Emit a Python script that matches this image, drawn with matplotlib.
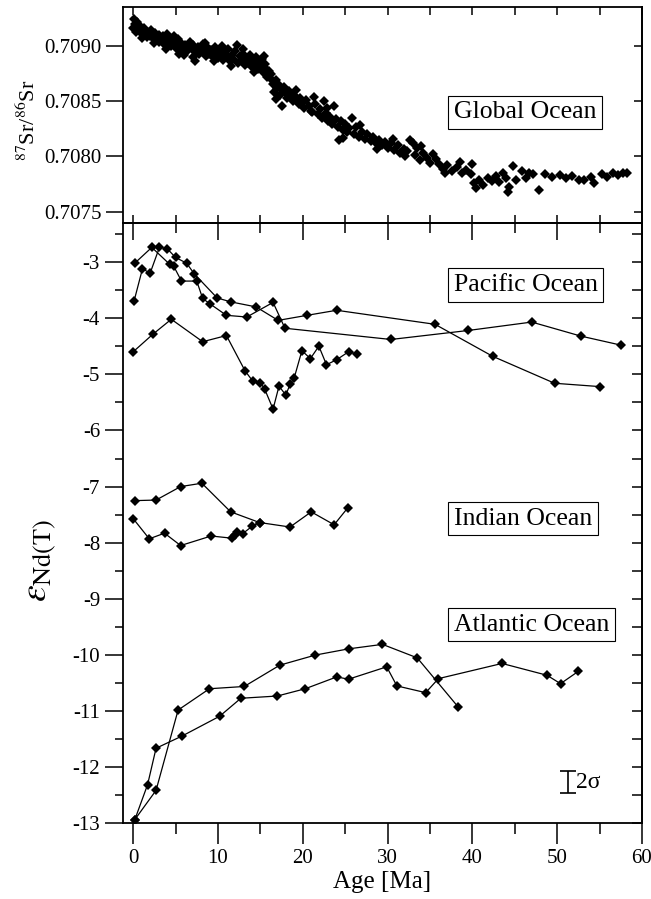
import matplotlib
matplotlib.use("Agg")
import matplotlib.pyplot as plt
from matplotlib.ticker import MultipleLocator, FormatStrFormatter

plt.rcParams['font.family'] = ['Liberation Serif', 'DejaVu Serif']
plt.rcParams['mathtext.fontset'] = 'stix'
plt.rcParams['axes.unicode_minus'] = False

# --- Sr isotope record (global ocean) ---
sr_age = [0.0, 0.1, 0.2, 0.3, 0.4, 0.5, 0.6, 0.8, 0.9, 1.0, 1.2, 1.3, 1.5, 1.6, 1.8, 2.0, 2.1, 2.3,
          2.5, 2.6, 2.8, 3.0, 3.1, 3.3, 3.5, 3.6, 3.8, 4.0, 4.1, 4.3, 4.5, 4.6, 4.8, 5.0, 5.2, 5.4, 5.5,
          5.7, 5.9, 6.1, 6.3, 6.5, 6.7, 6.9, 7.1, 7.3, 7.4, 7.6, 7.8, 8.0, 8.2, 8.4, 8.6, 8.8, 9.0,
          9.2, 9.4, 9.6, 9.8, 10.0, 10.2, 10.4, 10.6, 10.8, 11.0, 11.2, 11.4, 11.6, 11.8, 12.0, 12.3,
          12.4, 12.6, 12.8, 13.0, 13.2, 13.4,
          13.6, 13.8, 14.0, 14.1, 14.3, 14.5, 14.7, 14.8, 15.0, 15.2, 15.3, 15.5, 15.7, 15.8, 16.0,
          16.2, 16.3, 16.5, 16.6, 16.8, 17.0, 17.2, 17.3, 17.5, 17.6, 17.8, 18.0, 18.2, 18.4,
          18.6, 18.8, 19.0, 19.3, 19.5, 19.7, 20.0, 20.2, 20.4, 20.7, 21.0, 21.3, 21.5, 21.8, 22.0,
          22.3, 22.5, 22.7, 23.0, 23.2, 23.4, 23.7, 23.9, 24.1, 24.3, 24.5, 24.7, 25.0, 25.2, 25.5,
          25.8, 26.0, 26.3, 26.6,
          27.0, 27.3, 27.6, 28.0, 28.3, 28.6, 29.0, 29.3, 29.7, 30.0, 30.4, 30.8, 31.2, 31.5, 31.9,
          32.3, 32.6, 33.0, 33.2, 33.5, 33.8, 34.2, 34.6, 35.0, 35.4, 35.7, 36.1, 36.5, 37.0, 37.6,
          38.2, 38.8, 39.3, 39.8, 40.0, 40.2, 40.4,
          40.8, 41.3, 41.8, 42.3, 42.8, 43.2, 43.6, 44.0, 44.2, 44.3, 44.8, 45.2, 45.8, 46.3, 46.7,
          47.2, 47.9, 48.6, 49.4, 50.3, 51.0, 51.8, 52.6, 53.2, 54.0, 54.4, 55.3, 55.9, 56.6, 57.2,
          57.8, 58.2,
          # extra scatter around the main band
          1.1, 2.4, 3.9, 5.3, 6.0, 7.0, 8.5, 9.5, 10.5, 11.5, 12.9, 14.2, 15.4, 16.9, 19.2, 21.1,
          22.9, 24.8, 26.8, 28.8, 30.6, 32.0, 34.0, 36.8, 38.5]
sr_ratio = [0.70916, 0.70924, 0.70920, 0.70913, 0.70918, 0.70922, 0.70915, 0.70918, 0.70912, 0.70915,
            0.70911, 0.70916, 0.70913, 0.70908, 0.70912, 0.70909, 0.70914, 0.70910, 0.70906, 0.70912,
            0.70908, 0.70904, 0.70910, 0.70906, 0.70909, 0.70902, 0.70906, 0.70911, 0.70903, 0.70907,
            0.70900, 0.70905, 0.70909, 0.70902, 0.70897, 0.70893, 0.70899,
            0.70903, 0.70897, 0.70901, 0.70895, 0.70899, 0.70904, 0.70897, 0.70901, 0.70886, 0.70895,
            0.70899, 0.70893, 0.70897, 0.70902, 0.70895, 0.70891, 0.70898, 0.70893, 0.70896, 0.70890,
            0.70899, 0.70894, 0.70889, 0.70896, 0.70892, 0.70887, 0.70894, 0.70890, 0.70897, 0.70886,
            0.70892, 0.70888, 0.70895, 0.70901, 0.70885, 0.70891, 0.70887, 0.70893, 0.70883, 0.70889,
            0.70885, 0.70892, 0.70881, 0.70888, 0.70884, 0.70890, 0.70879, 0.70886, 0.70882, 0.70888,
            0.70876, 0.70884, 0.70879, 0.70872, 0.70877, 0.70870, 0.70875, 0.70866, 0.70858, 0.70869,
            0.70862, 0.70865, 0.70856, 0.70860, 0.70846, 0.70863, 0.70857, 0.70853, 0.70859,
            0.70855, 0.70850, 0.70856, 0.70852, 0.70847, 0.70853, 0.70849, 0.70844, 0.70851, 0.70846,
            0.70841, 0.70854, 0.70847, 0.70838, 0.70843, 0.70835, 0.70850, 0.70839, 0.70832, 0.70836,
            0.70829, 0.70846, 0.70834, 0.70827, 0.70815, 0.70832, 0.70824, 0.70829, 0.70822, 0.70826,
            0.70835, 0.70820, 0.70827, 0.70818,
            0.70822, 0.70816, 0.70820, 0.70814, 0.70818, 0.70812, 0.70815, 0.70810, 0.70813, 0.70808,
            0.70812, 0.70806, 0.70810, 0.70803, 0.70807, 0.70805, 0.70815, 0.70812, 0.70801, 0.70808,
            0.70797, 0.70803, 0.70799, 0.70794, 0.70802, 0.70798, 0.70793, 0.70789, 0.70792, 0.70787,
            0.70790, 0.70785, 0.70788, 0.70784, 0.70793, 0.70776, 0.70771,
            0.70779, 0.70774, 0.70780, 0.70778, 0.70782, 0.70777, 0.70785, 0.70780, 0.70768, 0.70772,
            0.70791, 0.70779, 0.70787, 0.70780, 0.70785, 0.70784, 0.70770, 0.70784, 0.70781, 0.70783,
            0.70780, 0.70782, 0.70779, 0.70779, 0.70781, 0.70776, 0.70784, 0.70781, 0.70785, 0.70783,
            0.70785, 0.70785,
            0.70907, 0.70903, 0.70897, 0.70906, 0.70892, 0.70890, 0.70903, 0.70886, 0.70900, 0.70882,
            0.70897, 0.70876, 0.70891, 0.70852, 0.70860, 0.70840, 0.70844, 0.70817, 0.70828, 0.70807,
            0.70816, 0.70800, 0.70809, 0.70785, 0.70795]

# --- Nd isotope records ---
pac_a_age = [0.1, 1.1, 2.0, 3.1, 4.0, 5.0, 6.3, 7.2, 9.9, 11.5, 14.5, 17.1, 20.5, 24.0, 35.6, 42.4, 49.7, 55.1]
pac_a_nd = [-3.70, -3.12, -3.20, -2.74, -2.76, -2.92, -3.02, -3.21, -3.64, -3.71, -3.80, -4.04, -3.95, -3.86,
            -4.11, -4.68, -5.16, -5.22]
pac_b_age = [0.2, 2.2, 4.3, 4.8, 5.7, 7.5, 8.2, 9.1, 11.0, 13.4, 16.5, 17.9, 30.4, 39.5, 47.0, 52.8, 57.5]
pac_b_nd = [-3.02, -2.74, -3.04, -3.08, -3.34, -3.34, -3.65, -3.75, -3.95, -3.98, -3.72, -4.18, -4.38, -4.22,
            -4.07, -4.32, -4.48]
pac_c_age = [0.0, 2.3, 4.5, 8.2, 11.0, 13.2, 14.1, 15.0, 15.5, 16.5, 17.2, 18.0, 18.5, 19.0, 19.9, 20.9,
             21.9, 22.8, 24.0, 25.4, 26.4]
pac_c_nd = [-4.60, -4.29, -4.02, -4.42, -4.31, -4.94, -5.12, -5.15, -5.26, -5.62, -5.21, -5.37, -5.18, -5.06,
            -4.58, -4.72, -4.50, -4.83, -4.74, -4.60, -4.64]

ind_a_age = [0.2, 2.7, 5.6, 8.1, 11.5, 14.9, 18.5, 21.0, 23.7, 25.3]
ind_a_nd = [-7.25, -7.24, -7.00, -6.94, -7.45, -7.64, -7.72, -7.45, -7.68, -7.38]
ind_b_age = [0.0, 1.9, 3.7, 5.6, 9.2, 11.7, 12.0, 12.3, 12.9, 14.0, 14.9]
ind_b_nd = [-7.57, -7.93, -7.83, -8.05, -7.88, -7.92, -7.86, -7.81, -7.84, -7.71, -7.64]

atl_a_age = [0.2, 2.7, 5.3, 9.0, 13.1, 17.3, 21.5, 25.4, 29.4, 33.5, 38.3]
atl_a_nd = [-12.93, -12.41, -10.98, -10.60, -10.56, -10.18, -10.00, -9.89, -9.81, -10.05, -10.92]
atl_b_age = [0.2, 1.7, 2.7, 5.8, 10.2, 12.7, 17.0, 20.3, 24.0, 25.4, 29.9, 31.1, 34.5, 36.0, 43.5, 48.8,
             50.4, 52.5]
atl_b_nd = [-12.93, -12.31, -11.66, -11.44, -11.09, -10.77, -10.73, -10.60, -10.39, -10.43, -10.21, -10.55,
            -10.67, -10.42, -10.15, -10.36, -10.51, -10.29]

fig = plt.figure(figsize=(6.51, 8.99), dpi=100)
ax1 = fig.add_axes([0.1889, 0.7523, 0.7972, 0.2396])
ax2 = fig.add_axes([0.1889, 0.0840, 0.7972, 0.6683])

box = dict(boxstyle='square,pad=0.22', fc='white', ec='black', lw=0.8)

# top panel: Sr
ax1.plot(sr_age, sr_ratio, 'D', color='black', ms=4.6, mew=0)
ax1.set_xlim(-1.2, 60)
ax1.set_ylim(0.70740, 0.70935)
ax1.xaxis.set_major_locator(MultipleLocator(5))
ax1.yaxis.set_major_locator(MultipleLocator(0.0005))
ax1.yaxis.set_major_formatter(FormatStrFormatter('%.4f'))
ax1.tick_params(axis='x', which='major', direction='in', top=True, bottom=True,
                labelbottom=False, length=5.5, width=1.1)
ax1.tick_params(axis='y', which='major', direction='out', left=True, right=False,
                length=12, width=1.1, labelsize=15)
sec1 = ax1.secondary_yaxis('right')
sec1.yaxis.set_major_locator(MultipleLocator(0.0005))
sec1.tick_params(direction='in', length=6, width=1.1, labelright=False)
ax1.text(37.8, 0.70840, 'Global Ocean', fontsize=18.5, ha='left', va='center', bbox=box)

# bottom panel: Nd
for a, v in [(pac_a_age, pac_a_nd), (pac_b_age, pac_b_nd), (pac_c_age, pac_c_nd),
             (ind_a_age, ind_a_nd), (ind_b_age, ind_b_nd),
             (atl_a_age, atl_a_nd), (atl_b_age, atl_b_nd)]:
    ax2.plot(a, v, '-D', color='black', lw=0.9, ms=5.6, mew=0)

ax2.set_xlim(-1.2, 60)
ax2.set_ylim(-13, -2.3)
ax2.xaxis.set_major_locator(MultipleLocator(10))
ax2.xaxis.set_minor_locator(MultipleLocator(5))
ax2.yaxis.set_major_locator(MultipleLocator(1))
ax2.yaxis.set_minor_locator(MultipleLocator(0.5))
ax2.tick_params(axis='x', which='major', direction='out', length=15, width=1.1, labelsize=15)
ax2.tick_params(axis='x', which='minor', direction='out', length=8, width=1.1)
ax2.tick_params(axis='y', which='major', direction='out', length=13, width=1.1, labelsize=15)
ax2.tick_params(axis='y', which='minor', direction='out', length=6, width=1.1)
sec2x = ax2.secondary_xaxis('top')
sec2x.xaxis.set_major_locator(MultipleLocator(10))
sec2x.xaxis.set_minor_locator(MultipleLocator(5))
sec2x.tick_params(which='major', direction='in', length=12, width=1.1, labeltop=False)
sec2x.tick_params(which='minor', direction='in', length=7, width=1.1)
sec2y = ax2.secondary_yaxis('right')
sec2y.yaxis.set_major_locator(MultipleLocator(0.5))
sec2y.tick_params(direction='in', length=7, width=1.1, labelright=False)

ax2.text(37.8, -3.41, 'Pacific Ocean', fontsize=18.5, ha='left', va='center', bbox=box)
ax2.text(37.8, -7.57, 'Indian Ocean', fontsize=18.5, ha='left', va='center', bbox=box)
ax2.text(37.8, -9.46, 'Atlantic Ocean', fontsize=18.5, ha='left', va='center', bbox=box)

# 2 sigma error bar
ax2.errorbar(51.3, -12.26, yerr=0.2, fmt='none', ecolor='black', capsize=5.5,
             elinewidth=1.2, capthick=1.2)
ax2.text(52.2, -12.27, '2σ', fontsize=17, ha='left', va='center')

ax2.set_xlabel('Age [Ma]', fontsize=18, labelpad=2)

for ax in (ax1, ax2, sec1, sec2x, sec2y):
    for s in ax.spines.values():
        s.set_linewidth(1.3)

fig.text(0.043, 1 - 120 / 899, r'$^{87}$Sr/$^{86}$Sr', rotation=90, fontsize=16,
         ha='center', va='center')
fig.text(0.062, 1 - 560 / 899, r'$\varepsilon_{\mathrm{Nd(T)}}$', rotation=90, fontsize=27,
         ha='center', va='center')

fig.savefig('out.png', dpi=100)
